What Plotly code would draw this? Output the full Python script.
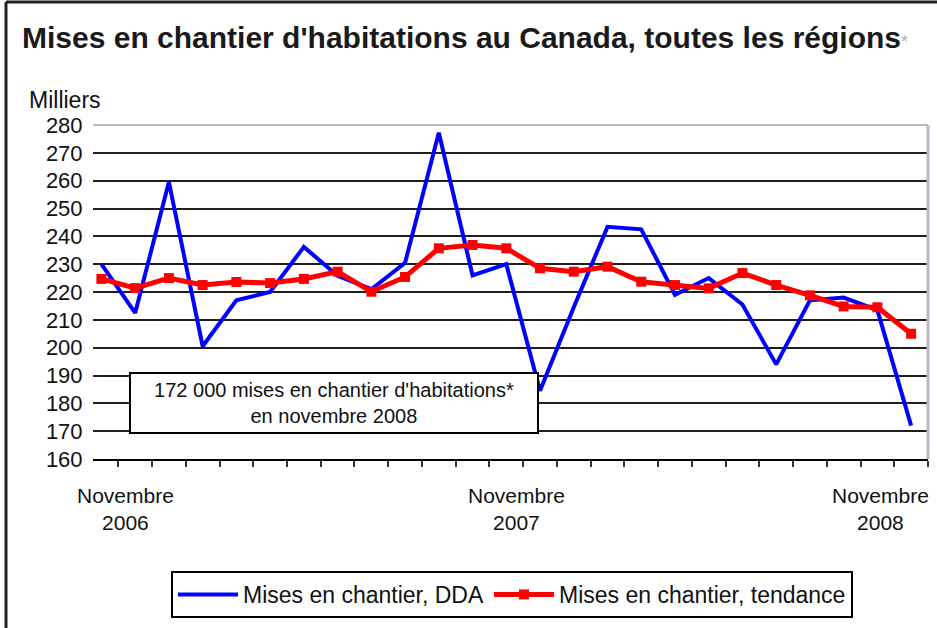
import plotly.graph_objects as go

# ---------------- data ----------------
months = ["nov. 2006", "déc. 2006", "janv. 2007", "févr. 2007", "mars 2007", "avr. 2007",
          "mai 2007", "juin 2007", "juil. 2007", "août 2007", "sept. 2007", "oct. 2007",
          "nov. 2007", "déc. 2007", "janv. 2008", "févr. 2008", "mars 2008", "avr. 2008",
          "mai 2008", "juin 2008", "juil. 2008", "août 2008", "sept. 2008", "oct. 2008",
          "nov. 2008"]
starts_sa = [230, 212.5, 259.5, 200.5, 217, 220, 236.2, 225.8, 221, 230.5, 277.2, 226,
             230, 184.5, 214.5, 243.4, 242.5, 219, 225, 215.5, 194, 217, 218, 213.5, 172]
starts_trend = [224.7, 221.4, 225, 222.5, 223.6, 223.2, 224.7, 227.3, 220.1, 225.4, 235.7, 236.9,
                235.7, 228.5, 227.3, 229.1, 223.7, 222.5, 221.3, 226.8, 222.5, 218.8, 214.8, 214.5, 205]
y_ticks = [160, 170, 180, 190, 200, 210, 220, 230, 240, 250, 260, 270, 280]
x_labels = ["Novembre<br>2006", "Novembre<br>2007", "Novembre<br>2008"]
x_label_pos = [0.7, 12.3, 23.1]
series_names = ["Mises en chantier, DDA", "Mises en chantier, tendance"]
title_text = "Mises en chantier d'habitations au Canada, toutes les régions"
note_text = "172 000 mises en chantier d'habitations*<br>en novembre 2008"
y_unit = "Milliers"

# ---------------- geometry helpers ----------------
W, H = 937, 628
L, R, T, B = 93, 928, 125, 459


def px2x(px):
    return (px - L) / (R - L)


def py2y(py):
    return (B - py) / (B - T)


FONT = "Liberation Sans, Arial, sans-serif"
x = list(range(len(months)))

fig = go.Figure()
fig.add_trace(go.Scatter(
    x=x, y=starts_sa, mode="lines", name=series_names[0],
    line=dict(color="#0000ff", width=4), customdata=months,
    hovertemplate="%{customdata}: %{y}<extra></extra>"))
fig.add_trace(go.Scatter(
    x=x, y=starts_trend, mode="lines+markers", name=series_names[1],
    line=dict(color="#ff0000", width=5),
    marker=dict(symbol="square", size=10, color="#ff0000"), customdata=months,
    hovertemplate="%{customdata}: %{y}<extra></extra>"))

annotations = [
    dict(text=y_unit, xref="paper", yref="paper", x=px2x(27), y=py2y(100),
         xanchor="left", yanchor="middle", showarrow=False,
         font=dict(family=FONT, size=23, color="#111")),
    dict(text=note_text, xref="paper", yref="paper", x=px2x(334), y=py2y(403),
         xanchor="center", yanchor="middle", showarrow=False, align="center",
         width=404, height=56, bgcolor="#ffffff", bordercolor="#000000",
         borderwidth=2, borderpad=1,
         font=dict(family=FONT, size=20, color="#111")),
]
for lab, pos in zip(x_labels, x_label_pos):
    annotations.append(dict(text=lab, xref="x", yref="paper", x=pos, y=py2y(509),
                            xanchor="center", yanchor="middle", showarrow=False,
                            align="center", font=dict(family=FONT, size=21, color="#111")))

shapes = [
    # outer frame (top and left visible)
    dict(type="line", xref="paper", yref="paper", x0=px2x(6), x1=px2x(945),
         y0=py2y(2), y1=py2y(2), line=dict(color="#222", width=3), layer="above"),
    dict(type="line", xref="paper", yref="paper", x0=px2x(6), x1=px2x(6),
         y0=py2y(2), y1=py2y(640), line=dict(color="#222", width=3), layer="above"),
    # plot area border (top and right, light lilac)
    dict(type="line", xref="paper", yref="paper", x0=0, x1=1, y0=1, y1=1,
         line=dict(color="#bdb7c9", width=2), layer="above"),
    dict(type="line", xref="paper", yref="paper", x0=1, x1=1, y0=0, y1=1,
         line=dict(color="#bdb7c9", width=3), layer="above"),
]

fig.update_layout(
    width=W, height=H,
    margin=dict(l=L, r=W - R, t=T, b=H - B, pad=0),
    paper_bgcolor="#ffffff", plot_bgcolor="#ffffff",
    font=dict(family=FONT, color="#111"),
    title=dict(text="<b>" + title_text + "</b><span style='font-size:18px;color:#b0b0b0'>*</span>",
               xref="container", yref="container", x=22 / W, xanchor="left",
               y=1 - 37 / H, yanchor="middle",
               font=dict(family=FONT, size=30, color="#1a1a1a")),
    xaxis=dict(range=[-0.25, len(months) - 0.5],
               tickvals=[i + 0.5 for i in x], showticklabels=False,
               ticks="outside", ticklen=6, tickwidth=2, tickcolor="#333",
               showline=True, linecolor="#000", linewidth=2,
               showgrid=False, zeroline=False, fixedrange=True),
    yaxis=dict(range=[y_ticks[0], y_ticks[-1]], tickvals=y_ticks,
               ticks="outside", ticklen=5, tickcolor="rgba(0,0,0,0)",
               tickfont=dict(family=FONT, size=22, color="#111"),
               showgrid=True, gridcolor="#1e1e1e", gridwidth=2,
               showline=False, zeroline=False, fixedrange=True),
    legend=dict(orientation="h", x=px2x(512), xanchor="center",
                y=py2y(571), yanchor="top", bordercolor="#000", borderwidth=2,
                bgcolor="#fff", font=dict(family=FONT, size=23, color="#111"),
                itemwidth=60, tracegroupgap=0),
    annotations=annotations,
    shapes=shapes,
    showlegend=True,
)

fig.write_html("out.html",
               config={"displayModeBar": False},
               post_script="document.body.style.margin='0';document.body.style.overflow='hidden';")
